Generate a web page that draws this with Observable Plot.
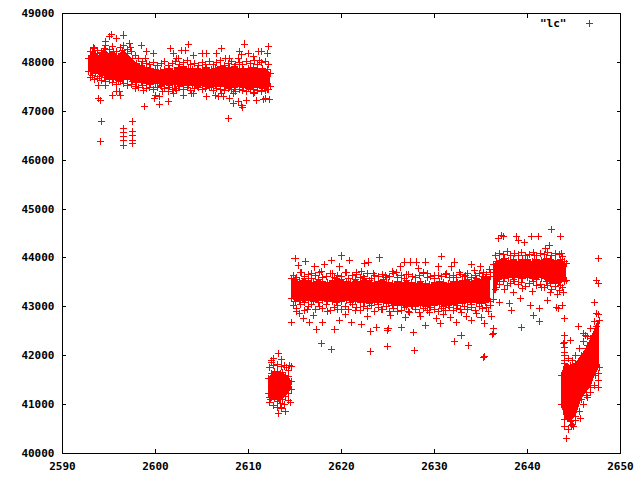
<!DOCTYPE html>
<html><head><meta charset="utf-8">
<script src="https://cdn.jsdelivr.net/npm/d3@7"></script>
<script src="https://cdn.jsdelivr.net/npm/@observablehq/plot@0.6"></script>
<style>body{margin:0;background:#fff}</style>
</head><body><div id="chart"></div>
<script>
// Tick labels
const xTicks = [2590, 2600, 2610, 2620, 2630, 2640, 2650];
const yTicks = [40000, 41000, 42000, 43000, 44000, 45000, 46000, 47000, 48000, 49000];
const seriesName = '"lc"';

// Dense core of each run of points: x, lower edge, upper edge
const b1x  = [2592.8,2593.2,2593.6,2594.0,2594.5,2595.0,2595.5,2596.0,2596.5,2597.0,2597.5,2598.0,2598.5,2599.0,2599.5,2600.0,2600.5,2601.0,2601.5,2602.0,2602.5,2603.0,2603.5,2604.0,2604.5,2605.0,2605.5,2606.0,2606.5,2607.0,2607.5,2608.0,2608.5,2609.0,2609.5,2610.0,2610.5,2611.0,2611.5,2612.0,2612.4];
const b1lo = [47820,47730,47780,47720,47700,47680,47650,47630,47660,47640,47610,47590,47590,47570,47550,47560,47530,47550,47530,47540,47510,47530,47520,47530,47510,47530,47510,47500,47530,47510,47500,47490,47480,47500,47480,47470,47450,47480,47460,47450,47500];
const b1hi = [48080,48230,48180,48130,48280,48180,48230,48130,48250,48180,48080,47980,47930,47900,47880,47850,47840,47860,47880,47840,47900,47920,47880,47860,47880,47850,47900,47860,47880,47910,47880,47900,47920,47880,47860,47880,47900,47860,47880,47860,47780];

const b2x  = [2612.2,2612.5,2612.8,2613.1,2613.4,2613.7,2614.0,2614.3,2614.6];
const b2lo = [41220,41140,41120,41070,41030,41100,41170,41220,41300];
const b2hi = [41530,41630,41680,41680,41630,41660,41600,41580,41480];

const b3x  = [2614.6,2615.0,2615.5,2616.0,2616.5,2617.0,2617.5,2618.0,2618.5,2619.0,2619.5,2620.0,2620.5,2621.0,2621.5,2622.0,2622.5,2623.0,2623.5,2624.0,2624.5,2625.0,2625.5,2626.0,2626.5,2627.0,2627.5,2628.0,2628.5,2629.0,2629.5,2630.0,2630.5,2631.0,2631.5,2632.0,2632.5,2633.0,2633.5,2634.0,2634.5,2635.0,2635.5,2636.0];
const b3lo = [43170,43110,43130,43080,43130,43110,43080,43130,43100,43110,43080,43110,43130,43090,43110,43080,43090,43070,43080,43050,43080,43060,43030,43050,43030,43010,43030,43000,43030,43010,43030,43020,43040,43010,43030,43050,43030,43060,43080,43050,43090,43070,43080,43110];
const b3hi = [43570,43550,43520,43570,43530,43490,43550,43520,43490,43530,43570,43550,43520,43490,43550,43520,43570,43530,43490,43520,43550,43500,43470,43520,43490,43530,43490,43470,43510,43470,43450,43490,43520,43490,43470,43520,43500,43530,43550,43520,43570,43550,43590,43620];

const b4x  = [2636.3,2636.7,2637.0,2637.5,2638.0,2638.5,2639.0,2639.5,2640.0,2640.5,2641.0,2641.5,2642.0,2642.5,2643.0,2643.5,2644.0,2644.2];
const b4lo = [43150,43400,43520,43570,43590,43560,43610,43570,43600,43570,43550,43590,43520,43480,43480,43430,43520,43540];
const b4hi = [43870,43920,43950,43980,43950,43970,43930,43960,43970,43930,43970,43950,43990,43960,43950,43970,43920,43880];

const b5x  = [2643.7,2644.0,2644.6,2645.2,2645.8,2646.3,2646.8,2647.3,2647.7];
const b5lo = [41000,40700,40650,40750,41100,41250,41350,41600,41750];
const b5hi = [41600,41850,41800,41850,42000,42150,42350,42550,42720];

// Crosses just outside the dense cores (the fuzzy edges)
const f1x  = [2593.0,2593.4,2593.8,2594.2,2594.6,2595.0,2595.4,2595.8,2596.2,2596.6,2597.0,2597.4,2597.8,2598.2,2598.6,2599.0,2599.4,2599.8,2600.2,2600.6,2601.0,2601.4,2601.8,2602.2,2602.6,2603.0,2603.4,2603.8,2604.2,2604.6,2605.0,2605.4,2605.8,2606.2,2606.6,2607.0,2607.4,2607.8,2608.2,2608.6,2609.0,2609.4,2609.8,2610.2,2610.6,2611.0,2611.4,2611.8,2612.2];
const f1up = [48220,48290,48250,48210,48350,48270,48320,48230,48300,48340,48260,48220,48150,48080,48020,47980,47950,48000,47940,47970,48010,47930,47980,48020,47950,47990,48040,47950,47980,47930,48000,47960,48020,47950,47990,48040,47940,47980,48020,47960,48000,47950,48010,47970,48030,47950,47990,48020,47950];
const f1dn = [47700,47650,47670,47630,47610,47640,47590,47550,47600,47570,47530,47550,47510,47480,47520,47470,47490,47450,47480,47500,47460,47490,47440,47470,47500,47450,47480,47430,47470,47490,47440,47460,47480,47430,47470,47450,47420,47460,47440,47400,47450,47430,47410,47440,47390,47430,47400,47420,47450];

const f2x  = [2612.3,2612.7,2613.1,2613.5,2613.9,2614.3];
const f2up = [41750,41800,41820,41780,41790,41700];
const f2dn = [41050,40980,40950,40920,41000,41080];

const f3x  = [2614.8,2615.2,2615.6,2616.0,2616.4,2616.8,2617.2,2617.6,2618.0,2618.4,2618.8,2619.2,2619.6,2620.0,2620.4,2620.8,2621.2,2621.6,2622.0,2622.4,2622.8,2623.2,2623.6,2624.0,2624.4,2624.8,2625.2,2625.6,2626.0,2626.4,2626.8,2627.2,2627.6,2628.0,2628.4,2628.8,2629.2,2629.6,2630.0,2630.4,2630.8,2631.2,2631.6,2632.0,2632.4,2632.8,2633.2,2633.6,2634.0,2634.4,2634.8,2635.2,2635.6,2636.0];
const f3up = [43640,43590,43700,43620,43660,43580,43640,43710,43600,43630,43680,43590,43650,43620,43700,43580,43640,43670,43600,43630,43690,43580,43640,43620,43660,43590,43630,43680,43600,43640,43580,43660,43620,43590,43640,43680,43600,43630,43580,43650,43620,43670,43600,43640,43590,43660,43630,43680,43600,43640,43690,43620,43660,43700];
const f3dn = [43020,42960,43040,42930,43000,43050,42940,43010,42970,43040,42920,42990,43030,42950,43010,42940,43050,42980,42920,43000,42960,43030,42910,42980,42940,43010,42900,42960,43020,42930,42980,42910,43000,42940,42890,42970,42920,42990,42940,42900,42960,42930,42990,42920,42970,42940,43000,42950,42980,42930,43010,42960,42990,43020];

const f4x  = [2636.6,2637.0,2637.4,2637.8,2638.2,2638.6,2639.0,2639.4,2639.8,2640.2,2640.6,2641.0,2641.4,2641.8,2642.2,2642.6,2643.0,2643.4,2643.8];
const f4up = [44050,44100,44070,44130,44040,44090,44060,44110,44050,44080,44120,44040,44090,44070,44110,44050,44100,44070,44030];
const f4dn = [43360,43460,43510,43440,43480,43520,43450,43490,43420,43470,43510,43430,43460,43400,43440,43360,43410,43340,43390];

const f5x  = [2644.0,2644.4,2644.8,2645.2,2645.6,2646.0,2646.4,2646.8,2647.2,2647.6];
const f5up = [42000,41950,41900,42000,42150,42300,42400,42550,42700,42850];
const f5dn = [40550,40500,40600,40680,40850,41000,41150,41250,41400,41500];

// Scattered points far from the cores
const outX = [
 2593.3,2593.85,2594.1,2594.2,2594.05,2593.85,2594.6,2594.6,2595.3,2595.1,2595.8,2596.6,2597.2,2597.3,2598.5,2599.05,2599.8,2601.6,2598.9,2602.3,
 2595.4,2596.2,2596.1,2595.8,2597.8,2598.7,2600.0,2600.4,2601.4,2601.9,
 2596.54,2596.54,2596.54,2596.54,2596.54,2597.5,2597.5,2597.5,2597.5,2597.5,
 2598.8,2600.4,2601.4,2599.85,2600.8,2602.3,2603.0,2603.9,2604.1,2605.5,2606.4,2606.75,2607.1,2607.3,2608.0,2608.4,2607.8,2608.4,2608.9,2609.3,2609.4,2609.8,2610.5,2610.9,2611.6,2611.8,2612.3,
 2601.9,2602.8,2602.45,2603.2,2603.5,2604.1,2605.0,2605.5,2606.6,2607.1,2607.5,2608.0,2608.9,2609.0,2609.3,2609.6,2610.0,2610.5,2611.05,2611.4,2611.2,2612.0,2612.1,
 2613.2,2612.5,2612.7,2613.6,2614.4,2614.6,2614.1,2613.2,2614.0,2613.5,2614.5,2612.4,2612.3,2612.5,
 2615.0,2616.1,2615.4,2617.15,2618.2,2618.9,2619.8,2620.0,2620.9,2621.6,2622.5,2622.9,2624.1,2625.9,2626.3,2626.8,2627.4,2628.1,2628.3,2629.0,2629.2,2630.4,2630.8,2631.85,2632.2,2634.0,2634.35,2634.9,
 2614.6,2615.5,2615.9,2616.6,2617.3,2617.9,2618.0,2618.9,2619.3,2619.8,2621.1,2622.2,2623.1,2623.1,2623.8,2624.9,2624.9,2625.0,2626.5,2627.7,2627.9,2629.0,2630.6,2632.2,2632.4,2632.85,2633.7,2634.0,2635.25,2635.35,2635.4,2636.2,2636.3,
 2615.2,2616.3,2617.0,2618.5,2619.6,2620.4,2621.5,2622.8,2623.6,2624.3,2625.3,2626.0,2626.9,2627.3,2628.5,2629.5,2630.2,2631.0,2631.7,2632.9,2633.4,2634.5,2635.0,2635.8,2636.1,
 2615.7,2616.8,2617.8,2619.0,2620.5,2621.2,2622.2,2623.4,2624.7,2625.5,2627.0,2628.8,2630.0,2631.3,2632.7,2633.3,2635.3,2635.9,
 2636.9,2637.2,2637.4,2638.8,2639.0,2639.7,2640.45,2641.2,2641.9,2642.4,2642.6,2643.5,2643.7,2640.8,2637.0,
 2636.3,2637.0,2638.1,2638.3,2639.2,2639.4,2640.3,2640.6,2641.3,2641.3,2642.1,2643.1,2643.3,2643.8,2644.0,
 2637.5,2638.5,2639.5,2640.5,2641.5,2642.5,2643.2,2643.9,
 2644.0,2643.9,2644.6,2645.5,2646.2,2646.0,2646.4,2647.4,2644.0,2644.6,2645.1,2647.6,2647.6,2646.35,2645.65,2644.75,2644.9,2644.6,2644.2,
 2647.6,2647.4,2647.6,2647.2,2647.4,2644.0,2644.0,2644.0
];
const outY = [
 48300,47263,47228,46800,46380,47521,47536,48437,48574,48525,48492,48560,48390,48300,48340,48218,48185,48287,48082,48082,
 47330,47330,47400,47400,47468,47433,47330,47296,47400,47366,
 46649,46567,46477,46395,46307,46800,46580,46512,46410,46342,
 47106,47140,47208,47263,47400,47433,47330,47366,47366,47296,47330,47296,47366,47296,47263,47366,46860,47160,47194,47126,47079,47230,47366,47228,47243,47263,47249,
 48185,48250,48082,48252,48370,48150,48185,48185,48185,48287,48082,48082,48082,48220,48164,48376,48185,48116,48220,48232,48048,48185,48320,
 42041,41904,41939,41918,41800,41780,41767,40812,40866,40935,41050,41100,41152,41869,
 43987,43937,43849,43815,43863,43951,43815,44040,43951,43712,43884,43917,43999,43712,43815,43917,43917,43917,43781,43917,43679,43815,44034,43815,43917,43863,43747,43815,
 42688,42860,42757,42688,42538,42245,42688,42122,42538,42723,42688,42634,42497,42087,42586,42518,42190,42553,42586,42484,42108,42620,42655,42293,42688,42416,42211,42723,41971,41975,42655,42430,42553,
 42900,42950,42820,42900,42950,42850,42920,42800,42900,42950,42820,42900,42780,42880,42800,42880,42760,42850,42780,42880,42800,42870,42780,42900,42800,
 43700,43680,43720,43680,43700,43650,43720,43680,43650,43720,43660,43700,43650,43690,43700,43650,43700,43760,
 44392,44464,44430,44430,44362,44307,44444,44430,44191,44259,44580,44444,44100,44054,44089,
 42450,43098,43065,42928,43167,42586,43030,42825,42702,42962,43133,42996,42962,43030,42757,
 43350,43300,43380,43320,43400,43300,43250,43300,
 42416,42245,42313,42600,42416,42450,42211,42590,41904,41767,41767,41631,41357,41187,40710,40573,40552,40675,40300,
 43987,43542,43487,43098,42860,42280,42177,42074
];

const rows = [];
function addBand(id, xs, lo, hi) { xs.forEach((x, i) => rows.push({band: id, x, lo: lo[i], hi: hi[i]})); }
addBand(1, b1x, b1lo, b1hi);
addBand(2, b2x, b2lo, b2hi);
addBand(3, b3x, b3lo, b3hi);
addBand(4, b4x, b4lo, b4hi);
addBand(5, b5x, b5lo, b5hi);

const points = outX.map((x, i) => ({x, y: outY[i]}));
function addFuzz(xs, up, dn) { xs.forEach((x, i) => { points.push({x, y: up[i]}); points.push({x, y: dn[i]}); }); }
addFuzz(f1x, f1up, f1dn);
addFuzz(f2x, f2up, f2dn);
addFuzz(f3x, f3up, f3dn);
addFuzz(f4x, f4up, f4dn);
addFuzz(f5x, f5up, f5dn);

const red = "#ff0000";
const R = 2.4;
const fmt = d => String(d);
const plus = {symbol: "plus", r: R, stroke: red, strokeWidth: 1, shapeRendering: "crispEdges"};

const chart = Plot.plot({
  width: 640, height: 480,
  marginLeft: 62, marginRight: 20, marginTop: 13, marginBottom: 27,
  x: {domain: [2590, 2650]},
  y: {domain: [40000, 49000]},
  style: {fontFamily: "'DejaVu Sans Mono', monospace", fontSize: "11px", fontWeight: "bold", color: "black", background: "white"},
  marks: [
    Plot.areaY(rows, {x: "x", y1: "lo", y2: "hi", z: "band", fill: red, shapeRendering: "crispEdges"}),
    Plot.dot(rows, {x: "x", y: "lo", ...plus}),
    Plot.dot(rows, {x: "x", y: "hi", ...plus}),
    Plot.dot(points, {x: "x", y: "y", ...plus}),
    Plot.frame({stroke: "black"}),
    Plot.axisX(xTicks, {anchor: "bottom", tickSize: 4, dy: -4, fill: "none", label: null, shapeRendering: "crispEdges"}),
    Plot.axisX(xTicks, {anchor: "top", tickSize: 4, dy: 4, fill: "none", label: null, shapeRendering: "crispEdges"}),
    Plot.axisY(yTicks, {anchor: "left", tickSize: 4, dx: 4, fill: "none", label: null, shapeRendering: "crispEdges"}),
    Plot.axisY(yTicks, {anchor: "right", tickSize: 4, dx: -4, fill: "none", label: null, shapeRendering: "crispEdges"}),
    Plot.axisX(xTicks, {anchor: "bottom", tickSize: 0, tickPadding: 9, tickFormat: fmt, label: null}),
    Plot.axisY(yTicks, {anchor: "left", tickSize: 0, tickPadding: 8, tickFormat: fmt, label: null}),
    Plot.text([seriesName], {text: d => d, frameAnchor: "top-right", textAnchor: "end", lineAnchor: "middle", dx: -54, dy: 10}),
    Plot.dot([seriesName], {frameAnchor: "top-right", dx: -31, dy: 10, ...plus})
  ]
});
document.getElementById("chart").appendChild(chart);
</script>
</body></html>
